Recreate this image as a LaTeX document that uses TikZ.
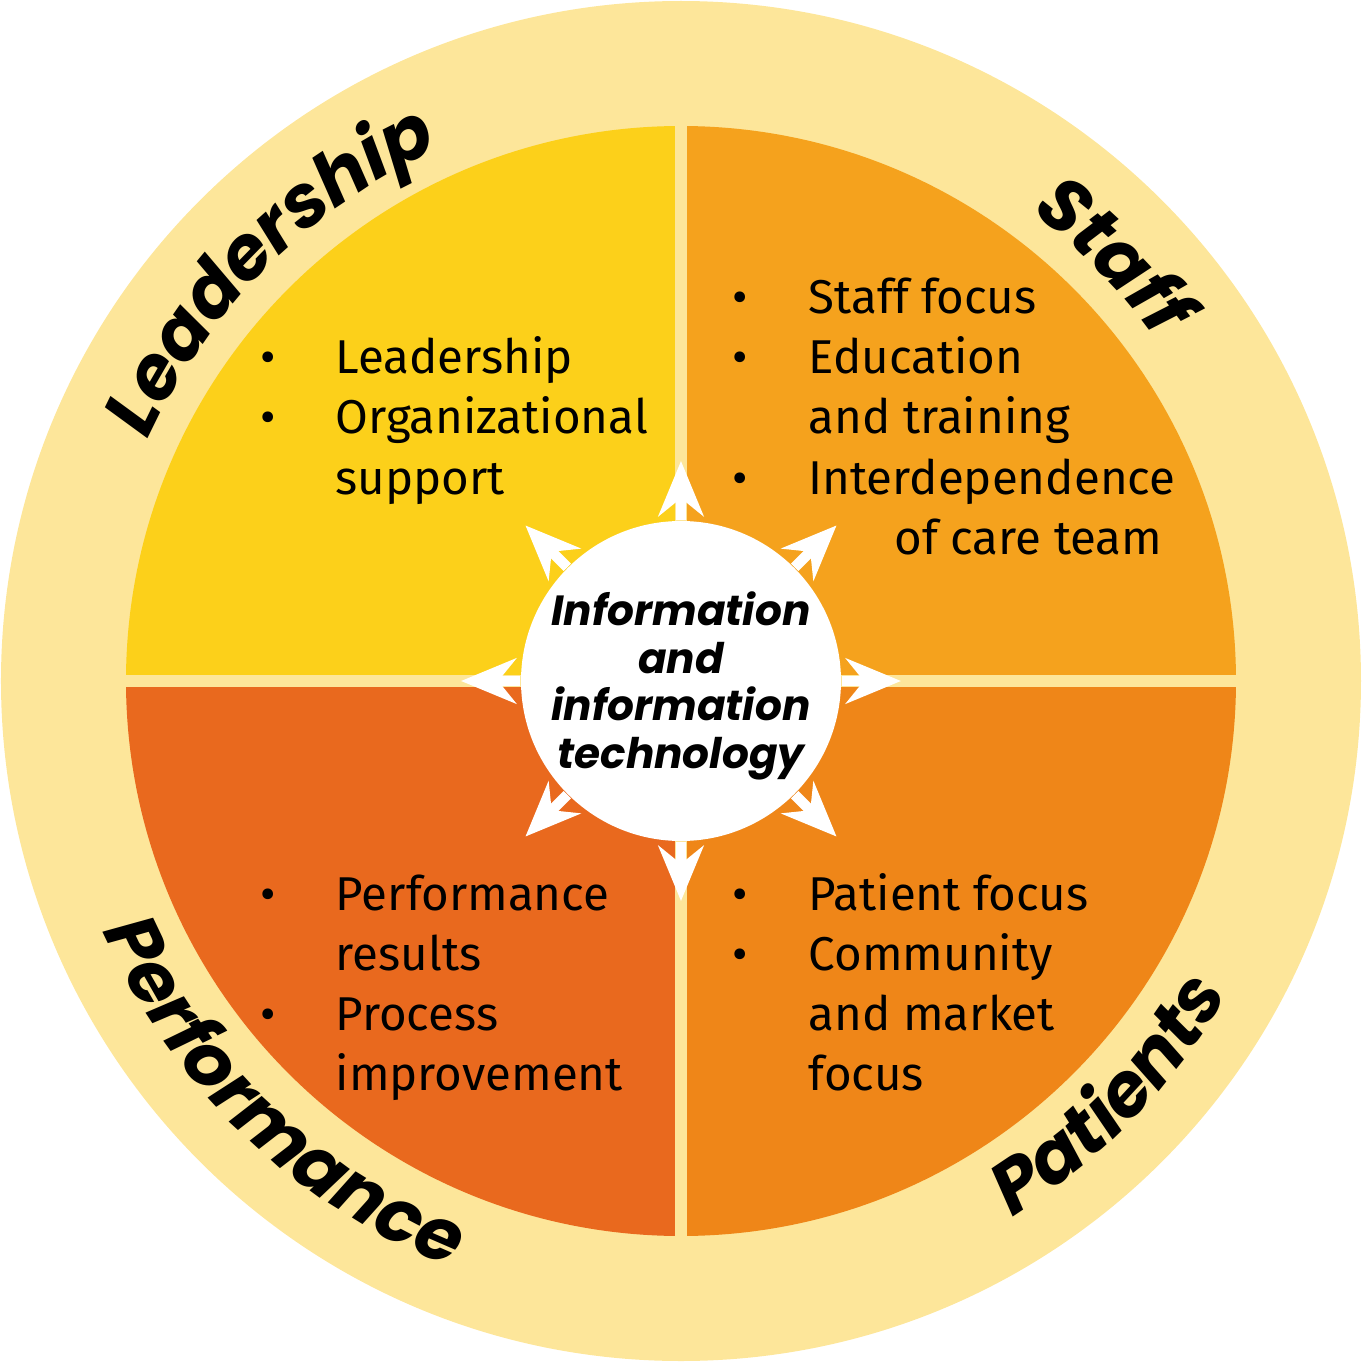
\documentclass[tikz,border=0pt]{standalone}
\usepackage{fontspec}
\setmainfont{Fira Sans}
\newfontfamily\hand{Poppins}
\usetikzlibrary{arrows.meta,decorations.text}
\definecolor{ringcol}{HTML}{FDE69A}
\definecolor{leadcol}{HTML}{FCD01A}
\definecolor{staffcol}{HTML}{F5A21D}
\definecolor{perfcol}{HTML}{E9691E}
\definecolor{patcol}{HTML}{EF8618}

\begin{document}
\begin{tikzpicture}[
      line/.style={anchor=base west,inner sep=0pt,font=\fontsize{13.5}{16}\selectfont},
      dot/.style={anchor=base,inner sep=0pt,font=\fontsize{13.5}{16}\selectfont},
      ray/.style={white,line width=3pt,-{Stealth[length=5.5mm,width=4.5mm]}},
      curved/.style={decoration={text along path,text align=center,
        text={|\hand\fontsize{21}{21}\selectfont\bfseries\itshape|#1}},decorate},
      >=Stealth
    ]
    \useasboundingbox (-6.81,-6.81) rectangle (6.81,6.81);

    % the ring and the quadrants
    \fill[ringcol] (0,0) circle (6.8);
    \fill[leadcol] (0,0) -- (180:5.55) arc (180:90:5.55) -- cycle;
    \fill[staffcol] (0,0) -- (90:5.55) arc (90:0:5.55) -- cycle;
    \fill[patcol] (0,0) -- (0:5.55) arc (0:-90:5.55) -- cycle;
    \fill[perfcol] (0,0) -- (-90:5.55) arc (-90:-180:5.55) -- cycle;
    \draw[ringcol,line width=3.4pt] (-5.6,0) -- (5.6,0);
    \draw[ringcol,line width=3.4pt] (0,-5.6) -- (0,5.6);

    % the centre and its arrows
    \node[circle,fill=white,minimum size=3.2cm,inner sep=0pt] (hub) at (0,0) {};
    \foreach \a in {0,45,...,315}
      \draw[ray] (hub.\a) -- (\a:2.2);
    \node[align=center,font=\hand\fontsize{12}{13.5}\selectfont\bfseries\itshape] (info) at (0,-0.05)
      {Information\\and\\information\\technology};

    % the labels round the ring
    \path[curved=Leadership] (160:5.85) arc (160:110:5.85);
    \path[curved=Staff] (57:5.85) arc (57:32:5.85);
    \path[curved=Performance] (198:6.3) arc (198:254:6.3);
    \path[curved=Patients] (296:6.3) arc (296:336:6.3);

    % leadership
    \node[dot] (l1) at (-4.13,3.07) {•};
    \node[line] (lt1) at (-3.46,3.07) {Leadership};
    \node[dot] (l2) at (-4.13,2.47) {•};
    \node[line] (lt2) at (-3.46,2.47) {Organizational};
    \node[line] (lt3) at (-3.46,1.87) {support};

    % staff
    \node[dot] (s1) at (0.59,3.67) {•};
    \node[line] (st1) at (1.27,3.67) {Staff focus};
    \node[dot] (s2) at (0.59,3.07) {•};
    \node[line] (st2) at (1.27,3.07) {Education};
    \node[line] (st3) at (1.27,2.47) {and training};
    \node[dot] (s3) at (0.59,1.87) {•};
    \node[line] (st4) at (1.27,1.87) {Interdependence};
    \node[line,anchor=base east] (st5) at (4.82,1.27) {of care team};

    % performance
    \node[dot] (p1) at (-4.13,-2.29) {•};
    \node[line] (pt1) at (-3.46,-2.29) {Performance};
    \node[line] (pt2) at (-3.46,-2.89) {results};
    \node[dot] (p2) at (-4.13,-3.49) {•};
    \node[line] (pt3) at (-3.46,-3.49) {Process};
    \node[line] (pt4) at (-3.46,-4.09) {improvement};

    % patients
    \node[dot] (q1) at (0.59,-2.29) {•};
    \node[line] (qt1) at (1.27,-2.29) {Patient focus};
    \node[dot] (q2) at (0.59,-2.89) {•};
    \node[line] (qt2) at (1.27,-2.89) {Community};
    \node[line] (qt3) at (1.27,-3.49) {and market};
    \node[line] (qt4) at (1.27,-4.09) {focus};
    \end{tikzpicture}
\end{document}
